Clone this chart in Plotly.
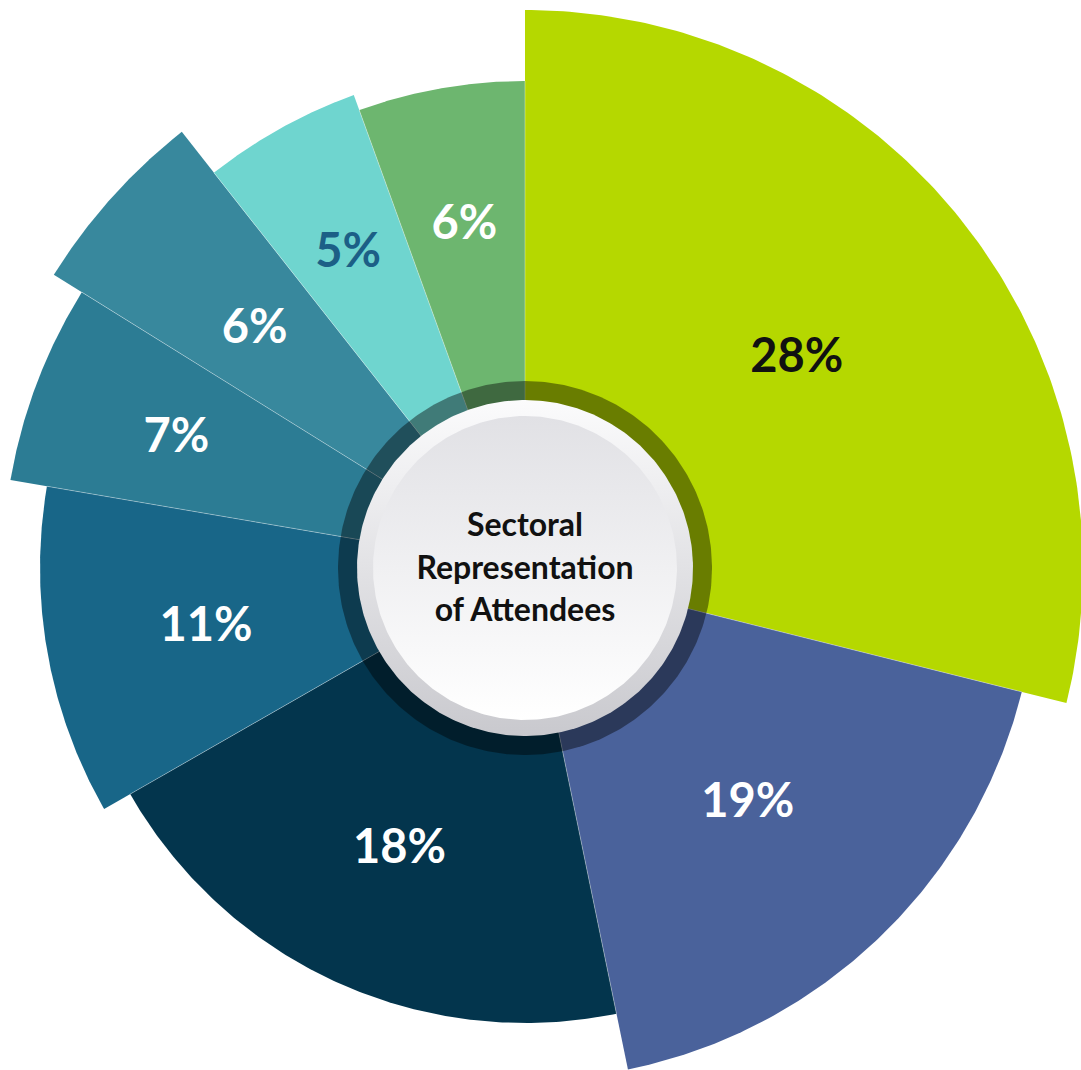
import numpy as np
import plotly.graph_objects as go

# ---- data ----
labels = ["28%", "19%", "18%", "11%", "7%", "6%", "5%", "6%"]
values = [28, 19, 18, 11, 7, 6, 5, 6]
sector_span_deg = [104.0, 64.4, 71.8, 39.5, 22.2, 19.9, 18.3, 19.9]   # angular share as drawn
outer_radius = [558, 512, 455, 485, 522, 555, 503, 487]
label_radius = [345, 322, 305, 324, 373, 363, 364, 351]
colors = ["#b5d800", "#4a629b", "#03354d", "#186688", "#2c7c94", "#38889d", "#6fd5cf", "#6db66f"]
label_colors = ["#111111", "white", "white", "white", "white", "white", "#1c5f86", "white"]
center_lines = ["Sectoral", "Representation", "of Attendees"]

# ---- layout geometry ----
W, H = 1081, 1070
cx, cy = 525, 568          # centre of the rose in px (from top-left)
text_dy = -5               # small downward nudge for text baseline


def arc_xy(r, a0, a1, n=160):
    a = np.radians(np.linspace(a0, a1, n))
    return r * np.sin(a), r * np.cos(a)


def circle_xy(r, n=360):
    return arc_xy(r, 0, 360, n)


fig = go.Figure()

# sectors (clockwise from 12 o'clock)
starts = np.concatenate([[0.0], np.cumsum(sector_span_deg)[:-1]])
mids = []
for s, span, rr, col in zip(starts, sector_span_deg, outer_radius, colors):
    ax, ay = arc_xy(rr, s, s + span)
    xs = np.concatenate([[0], ax, [0]])
    ys = np.concatenate([[0], ay, [0]])
    fig.add_trace(go.Scatter(
        x=xs, y=ys, mode="lines", fill="toself", fillcolor=col,
        line=dict(width=0, color=col),
        hoverinfo="skip", showlegend=False,
    ))
    mids.append(s + span / 2)

# thin light separators between neighbouring sectors
sx, sy = [], []
n = len(values)
for i in range(n):
    a = np.radians(starts[i])
    rr = min(outer_radius[i], outer_radius[i - 1])
    sx += [0, rr * np.sin(a), None]
    sy += [0, rr * np.cos(a), None]
fig.add_trace(go.Scatter(
    x=sx, y=sy, mode="lines", line=dict(color="rgba(255,255,255,0.35)", width=1),
    hoverinfo="skip", showlegend=False,
))

# dark translucent ring
rx, ry = circle_xy(187)
fig.add_trace(go.Scatter(
    x=rx, y=ry, mode="lines", fill="toself", fillcolor="rgba(0,0,0,0.42)",
    line=dict(width=0), hoverinfo="skip", showlegend=False,
))
# light rim disc
rx, ry = circle_xy(168)
fig.add_trace(go.Scatter(
    x=rx, y=ry, mode="lines", fill="toself",
    fillgradient=dict(type="vertical", colorscale=[[0, "#c9c9ce"], [1, "#fbfbfc"]]),
    line=dict(width=0), hoverinfo="skip", showlegend=False,
))
# inner disc
rx, ry = circle_xy(152)
fig.add_trace(go.Scatter(
    x=rx, y=ry, mode="lines", fill="toself",
    fillgradient=dict(type="vertical", colorscale=[[0, "#ffffff"], [1, "#e1e1e5"]]),
    line=dict(width=0), hoverinfo="skip", showlegend=False,
))

# percentage labels
lx = [r * np.sin(np.radians(a)) for r, a in zip(label_radius, mids)]
ly = [r * np.cos(np.radians(a)) + text_dy for r, a in zip(label_radius, mids)]
for x, y, lab, col in zip(lx, ly, labels, label_colors):
    fig.add_trace(go.Scatter(
        x=[x], y=[y], mode="text", text=[lab],
        textfont=dict(family="Lato", size=47, color=col, weight="bold"),
        hoverinfo="skip", showlegend=False,
    ))

# centre title
fig.add_trace(go.Scatter(
    x=[0, 0, 0], y=[43 - 3, -3, -42 - 3], mode="text", text=center_lines,
    textfont=dict(family="Lato", size=32, color="#111111", weight="bold"),
    hoverinfo="skip", showlegend=False,
))

fig.update_layout(
    width=W, height=H,
    margin=dict(l=0, r=0, t=0, b=0),
    paper_bgcolor="white",
    plot_bgcolor="white",
    xaxis=dict(range=[-cx, W - cx], visible=False, fixedrange=True),
    yaxis=dict(range=[-(H - cy), cy], visible=False, fixedrange=True),
    showlegend=False,
)

fig.write_html("out.html")
